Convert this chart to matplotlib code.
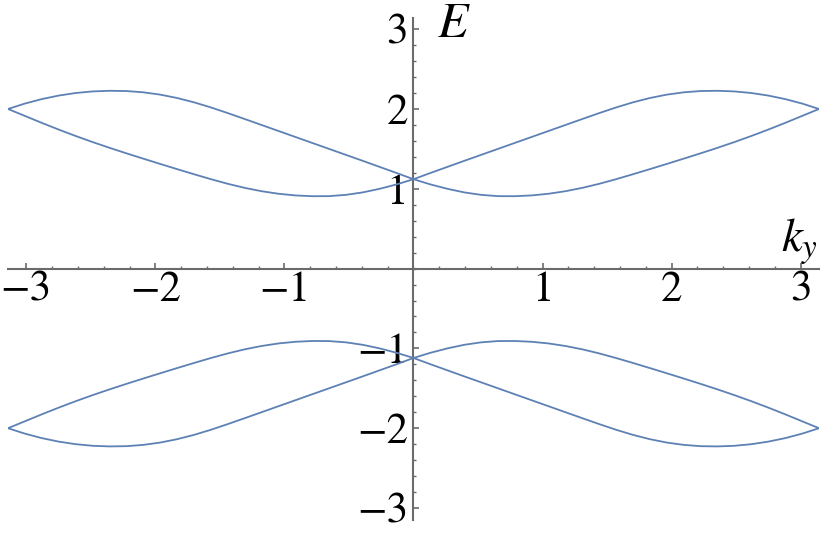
import numpy as np
import matplotlib
matplotlib.use("Agg")
import matplotlib.pyplot as plt
from matplotlib.ticker import MultipleLocator

# ---- data ----
k_points = np.linspace(-np.pi, np.pi, 49)

band_upper_a = [2.000, 2.068, 2.124, 2.168, 2.200, 2.220, 2.228, 2.225, 2.209,
                2.180, 2.138, 2.084, 2.020, 1.949, 1.875, 1.800, 1.725, 1.650,
                1.575, 1.500, 1.425, 1.350, 1.274, 1.198, 1.120,
                1.055, 1.000, 0.955, 0.924, 0.908, 0.907, 0.917, 0.938, 0.970,
                1.012, 1.063, 1.121, 1.183, 1.247, 1.312, 1.378, 1.445, 1.514,
                1.586, 1.662, 1.742, 1.826, 1.913, 2.000]
band_upper_b = band_upper_a[::-1]
band_lower_a = [-v for v in band_upper_a]
band_lower_b = [-v for v in band_upper_b]

x_ticks = [-3, -2, -1, 1, 2, 3]
y_ticks = [-3, -2, -1, 1, 2, 3]
x_label = r'$k_y$'
y_label = r'$E$'

# ---- style ----
plt.rcParams['font.family'] = ['STIXGeneral', 'Liberation Serif', 'DejaVu Serif']
plt.rcParams['mathtext.fontset'] = 'stix'
line_color = '#5E81B5'
axis_color = '#6b6b6b'

fig = plt.figure(figsize=(8.31, 5.41), dpi=100)
ax = fig.add_axes([8 / 831, 21 / 541, 811 / 831, 502 / 541])

for band in (band_upper_a, band_upper_b, band_lower_a, band_lower_b):
    ax.plot(k_points, band, color=line_color, lw=1.3, zorder=3,
            solid_joinstyle='round')

ax.set_xlim(-np.pi, np.pi)
ax.set_ylim(-3.15, 3.14)

for s in ('top', 'right'):
    ax.spines[s].set_visible(False)
for s in ('left', 'bottom'):
    ax.spines[s].set_position(('data', 0))
    ax.spines[s].set_color(axis_color)
    ax.spines[s].set_linewidth(1.5)

ax.set_xticks(x_ticks)
ax.set_yticks(y_ticks)
ax.xaxis.set_minor_locator(MultipleLocator(0.2))
ax.yaxis.set_minor_locator(MultipleLocator(0.2))
ax.tick_params(which='major', direction='in', length=4, width=1.2,
               color=axis_color, labelsize=31, labelcolor='black')
ax.tick_params(which='minor', direction='in', length=2.2, width=1.0,
               color=axis_color)
ax.tick_params(axis='x', which='major', pad=2)
ax.tick_params(axis='y', which='major', pad=4)

ax.text(0.18, 2.90, y_label, fontsize=36, ha='left', va='baseline')
ax.text(2.85, 0.207, x_label, fontsize=34, ha='left', va='baseline',
        clip_on=False)

ax.patch.set_alpha(0)
fig.savefig('out.png', dpi=100)
